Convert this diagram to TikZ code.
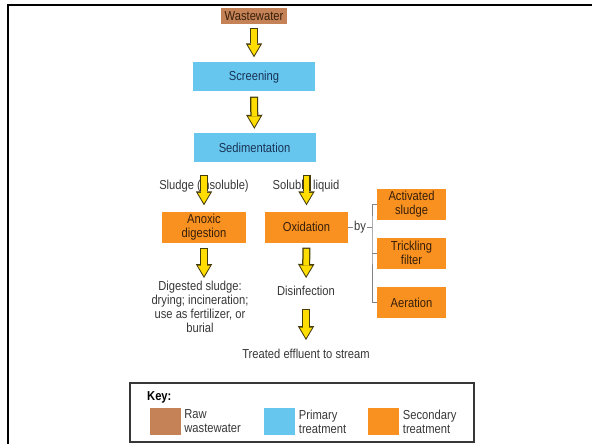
\documentclass[tikz,border=0pt]{standalone}
\usepackage{fontspec}
\setmainfont{Liberation Sans}[FakeStretch=0.86]
\usetikzlibrary{arrows.meta, positioning, calc}
\definecolor{raw_brown}{RGB}{196, 130, 86}
\definecolor{primary_blue}{RGB}{102, 198, 238}
\definecolor{secondary_orange}{RGB}{248, 145, 32}
\definecolor{arrow_yellow}{RGB}{255, 221, 0}
\definecolor{arrow_edge}{RGB}{70, 60, 10}
\definecolor{note_gray}{RGB}{55, 55, 55}
\definecolor{navy_text}{RGB}{25, 50, 85}
\definecolor{dark_text}{RGB}{55, 30, 10}
\definecolor{fork_gray}{RGB}{130, 130, 130}

\begin{document}
\begin{tikzpicture}[
    x=1pt, y=-1pt,
    font=\fontsize{13}{14}\selectfont,
    rawbox/.style={
        rectangle,
        fill=raw_brown,
        text=dark_text,
        minimum width=66pt,
        minimum height=16pt,
        inner sep=1pt
    },
    primary/.style={
        rectangle,
        fill=primary_blue,
        text=navy_text,
        minimum width=122pt,
        minimum height=29pt,
        inner sep=1pt
    },
    secondary/.style={
        rectangle,
        fill=secondary_orange,
        text=dark_text,
        minimum width=#1,
        minimum height=31pt,
        align=center,
        inner sep=1pt
    },
    note/.style={
        text=note_gray,
        align=center,
        inner sep=1pt
    },
    swatch/.style={
        rectangle,
        fill=#1,
        minimum width=31pt,
        minimum height=27pt,
        inner sep=0pt
    },
    keytext/.style={
        text=note_gray,
        align=left,
        inner sep=0pt
    },
    flow/.style 2 args={
        draw=arrow_yellow,
        line width=5.5pt,
        shorten <=#1+1.2pt,
        shorten >=#2+2pt,
        -{Triangle[length=10.5pt,width=12.5pt,line width=0pt]},
        preaction={
            draw=arrow_edge,
            line width=8pt,
            shorten <=#1,
            shorten >=#2,
            -{Triangle[length=14pt,width=16.5pt,line width=0pt]}
        }
    },
    bracket/.style={
        draw=fork_gray,
        line width=0.8pt
    }
]
\useasboundingbox (0,0) rectangle (592,444);

% Frame
\draw[line width=2.5pt] (8,444) -- (8,5) -- (592,5);

% Raw and primary treatment
\node[rawbox] (waste) at (254,16) {Wastewater};
\node[primary] (screen) at (254,77) {Screening};
\node[primary] (sedim) at (254.5,147.5) {Sedimentation};

% Split after sedimentation
\node[note] (sludge) at (204,186) {Sludge (insoluble)};
\node[note] (soluble) at (306,186) {Soluble liquid};

% Secondary treatment
\node[secondary=84pt] (anoxic) at (204,227) {Anoxic\\digestion};
\node[secondary=83pt] (oxid) at (306.5,227) {Oxidation};
\node[note] (by) at (360,227) {by};
\node[secondary=69pt] (act) at (411.5,204) {Activated\\sludge};
\node[secondary=69pt] (tri) at (411.5,253) {Trickling\\filter};
\node[secondary=69pt] (aer) at (411.5,302.5) {Aeration};
\coordinate (fork) at (372,227);

% End products
\node[note, anchor=north] (digest) at (200,280) {Digested sludge:\\drying; incineration;\\use as fertilizer, or\\burial};
\node[note] (disinf) at (306,291) {Disinfection};
\node[note] (treated) at (306,354) {Treated effluent to stream};

% Arrows
\draw[flow={4pt}{5pt}] (waste) -- (screen);
\draw[flow={5pt}{4pt}] (screen) -- (sedim);
\draw[flow={13pt}{6pt}] (sedim.south -| anoxic) -- (anoxic);
\draw[flow={13pt}{6pt}] (sedim.south -| oxid) -- (oxid);
\draw[flow={5pt}{2pt}] (anoxic.south) -- (anoxic.south |- digest.north);
\draw[flow={5pt}{7pt}] (oxid) -- (disinf);
\draw[flow={12pt}{8pt}] (disinf) -- (treated);

% Oxidation methods
\draw[bracket] (oxid) -- (by);
\draw[bracket] (by) -- (fork);
\draw[bracket] (act.west) -| (fork) |- (aer.west);
\draw[bracket] (tri.west) -- (tri.west -| fork);

% Key
\node[draw=note_gray, line width=1.2pt, minimum width=344pt, minimum height=59pt, inner sep=0pt] (keybox) at (302,412.5) {};
\node[keytext, anchor=west, font=\fontsize{13}{14}\selectfont\bfseries, text=black] (keytitle) at (147,397) {Key:};
\node[swatch=raw_brown] (swraw) at (165.5,421.5) {};
\node[swatch=primary_blue] (swprim) at (279,421.5) {};
\node[swatch=secondary_orange] (swsec) at (383,421.5) {};
\node[keytext, right=3pt of swraw] (lbraw) {Raw\\wastewater};
\node[keytext, right=4pt of swprim] (lbprim) {Primary\\treatment};
\node[keytext, right=4pt of swsec] (lbsec) {Secondary\\treatment};

\end{tikzpicture}
\end{document}
